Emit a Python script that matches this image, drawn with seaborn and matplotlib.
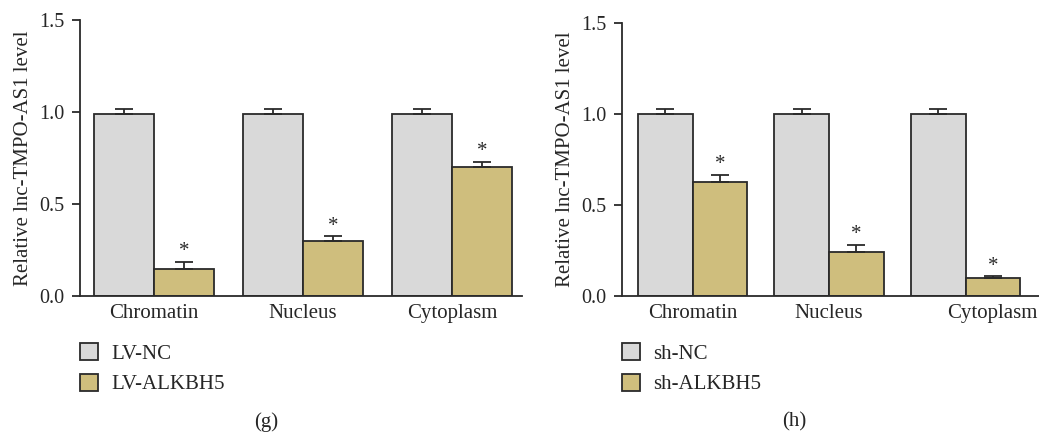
import numpy as np
import pandas as pd
import matplotlib
matplotlib.use("Agg")
import matplotlib.pyplot as plt
import matplotlib.transforms as mtransforms
import seaborn as sns
from matplotlib.patches import Patch

categories = ["Chromatin", "Nucleus", "Cytoplasm"]

# Panel (g)
g_groups = ["LV-NC", "LV-ALKBH5"]
g_ctrl = [0.99, 0.99, 0.99]
g_ctrl_err = [0.025, 0.025, 0.025]
g_trt = [0.145, 0.30, 0.70]
g_trt_err = [0.04, 0.025, 0.028]

# Panel (h)
h_groups = ["sh-NC", "sh-ALKBH5"]
h_ctrl = [1.0, 1.0, 1.0]
h_ctrl_err = [0.027, 0.027, 0.027]
h_trt = [0.625, 0.24, 0.097]
h_trt_err = [0.042, 0.04, 0.012]

yticks = [0.0, 0.5, 1.0, 1.5]
ylabel = "Relative lnc-TMPO-AS1 level"
panel_labels = ["(g)", "(h)"]

GRAY = "#d9d9d9"
GOLD = "#cfbe7d"
EDGE = "#2a2a2a"

sns.set_style("white")
plt.rcParams["font.family"] = ["Liberation Serif", "DejaVu Serif"]
FS = 15
TFS = 14.5

fig = plt.figure(figsize=(10.39, 4.32), dpi=100)
W, H = 1039, 432


def fax(x0, y_top, x1, y_bot):
    return fig.add_axes([x0 / W, 1 - y_bot / H, (x1 - x0) / W, (y_bot - y_top) / H])


def panel(ax, groups, ctrl, ctrl_err, trt, trt_err, xlim):
    df = pd.DataFrame({
        "cat": categories * 2,
        "grp": [groups[0]] * 3 + [groups[1]] * 3,
        "val": list(ctrl) + list(trt),
    })
    sns.barplot(data=df, x="cat", y="val", hue="grp", order=categories,
                hue_order=groups, palette=[GRAY, GOLD], errorbar=None,
                edgecolor=EDGE, linewidth=1.3, width=0.8, legend=False,
                saturation=1, ax=ax)
    errs = [ctrl_err, trt_err]
    vals = [ctrl, trt]
    bar_conts = list(ax.containers)
    for ci, cont in enumerate(bar_conts):
        xs = [p.get_x() + p.get_width() / 2 for p in cont.patches]
        ax.errorbar(xs, vals[ci], yerr=[np.zeros(3), errs[ci]], fmt="none",
                    ecolor=EDGE, elinewidth=1.3, capsize=6.5, capthick=1.3,
                    zorder=1)
        if ci == 1:
            for x, v, e in zip(xs, vals[ci], errs[ci]):
                ax.text(x, v + e + 0.003, "*", ha="center", va="bottom",
                        fontsize=FS, color=EDGE)
    ax.set_ylim(0, 1.5)
    ax.set_xlim(*xlim)
    ax.set_yticks(yticks)
    ax.set_yticklabels([f"{t:.1f}" for t in yticks], fontsize=TFS)
    ax.set_xticks(range(3))
    ax.set_xticklabels(categories, fontsize=FS)
    ax.set_xlabel("")
    ax.set_ylabel(ylabel, fontsize=FS, labelpad=4)
    for s in ["top", "right"]:
        ax.spines[s].set_visible(False)
    for s in ["left", "bottom"]:
        ax.spines[s].set_color(EDGE)
        ax.spines[s].set_linewidth(1.3)
    ax.tick_params(axis="y", which="major", left=True, length=6, width=1.3,
                   color=EDGE, pad=5.5)
    ax.tick_params(axis="x", bottom=False, pad=2.5)


ax1 = fax(80, 20, 522, 296)
panel(ax1, g_groups, g_ctrl, g_ctrl_err, g_trt, g_trt_err, (-0.497, 2.47))
ax2 = fax(622, 23, 1039, 296)
panel(ax2, h_groups, h_ctrl, h_ctrl_err, h_trt, h_trt_err, (-0.516, 2.536))

# last category label in panel (h) sits to the right of its bars
lab = ax2.get_xticklabels()[2]
lab.set_transform(lab.get_transform() +
                  mtransforms.ScaledTranslation(27 / 100, 0, fig.dpi_scale_trans))

for groups, x0 in [(g_groups, 80), (h_groups, 622)]:
    handles = [Patch(facecolor=GRAY, edgecolor=EDGE, linewidth=1.3),
               Patch(facecolor=GOLD, edgecolor=EDGE, linewidth=1.3)]
    fig.legend(handles, groups, loc="upper left",
               bbox_to_anchor=(x0 / W, 1 - 343 / H), frameon=False,
               fontsize=FS, handlelength=0.85, handleheight=0.85,
               handletextpad=0.65, labelspacing=0.5, borderpad=0,
               borderaxespad=0)

fig.text(266 / W, 1 - 422 / H, panel_labels[0], ha="center", va="center", fontsize=FS)
fig.text(794 / W, 1 - 422 / H, panel_labels[1], ha="center", va="center", fontsize=FS)

fig.savefig("out.png", dpi=100)
